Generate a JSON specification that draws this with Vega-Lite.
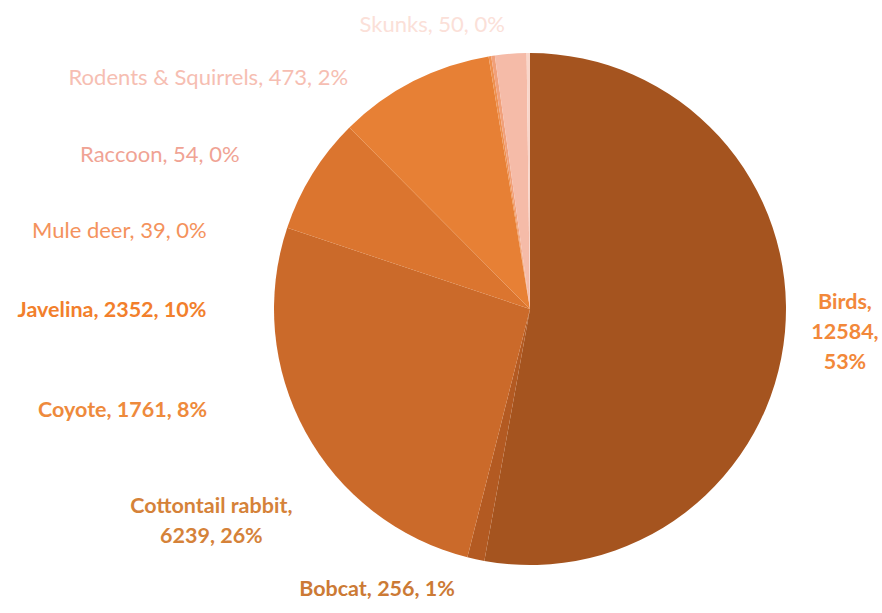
{
  "$schema": "https://vega.github.io/schema/vega-lite/v6.json",
  "width": 704,
  "height": 614,
  "padding": {"left": 178, "top": 2, "right": 0, "bottom": 0},
  "autosize": {"type": "none"},
  "background": "white",
  "view": {"stroke": null},
  "data": {
    "values": [
      {"animal": "Birds", "count": 12584, "order": 1, "label": "Birds,\n12584,\n53%"},
      {"animal": "Bobcat", "count": 256, "order": 2, "label": "Bobcat,  256, 1%"},
      {"animal": "Cottontail rabbit", "count": 6239, "order": 3, "label": "Cottontail rabbit,\n6239, 26%"},
      {"animal": "Coyote", "count": 1761, "order": 4, "label": "Coyote, 1761, 8%"},
      {"animal": "Javelina", "count": 2352, "order": 5, "label": "Javelina,  2352, 10%"},
      {"animal": "Mule deer", "count": 39, "order": 6, "label": "Mule deer, 39, 0%"},
      {"animal": "Raccoon", "count": 54, "order": 7, "label": "Raccoon,  54, 0%"},
      {"animal": "Rodents & Squirrels", "count": 473, "order": 8, "label": "Rodents & Squirrels, 473, 2%"},
      {"animal": "Skunks", "count": 50, "order": 9, "label": "Skunks, 50, 0%"}
    ]
  },
  "resolve": {"scale": {"color": "independent"}},
  "layer": [
    {
      "mark": {"type": "arc", "outerRadius": 256, "stroke": null},
      "encoding": {
        "theta": {"field": "count", "type": "quantitative", "stack": true},
        "order": {"field": "order", "type": "quantitative"},
        "color": {
          "field": "animal", "type": "nominal", "legend": null,
          "scale": {
            "domain": ["Birds", "Bobcat", "Cottontail rabbit", "Coyote", "Javelina", "Mule deer", "Raccoon", "Rodents & Squirrels", "Skunks"],
            "range": ["#a5541f", "#b35a22", "#cb6a2a", "#db752f", "#e78035", "#ee9050", "#f1a07a", "#f5bba8", "#f9d6ca"]
          }
        }
      }
    },
    {
      "transform": [{"filter": {"field": "animal", "oneOf": ["Birds", "Bobcat", "Cottontail rabbit", "Coyote", "Javelina"]}}],
      "mark": {"type": "text", "font": "Lato", "fontSize": 21.5, "fontWeight": "bold", "lineBreak": "\n", "lineHeight": 30, "align": "center", "baseline": "middle"},
      "encoding": {
        "theta": {"value": {"expr": "[1.552, 3.640, 4.157, 4.467, 4.708, 4.900, 5.107, 5.335, 5.951][datum.order - 1]"}},
        "radius": {"value": {"expr": "[315, 320, 375, 420, 418, 418, 401, 396, 300][datum.order - 1]"}},
        "text": {"field": "label"},
        "color": {
          "field": "animal", "type": "nominal", "legend": null,
          "scale": {
            "domain": ["Birds", "Bobcat", "Cottontail rabbit", "Coyote", "Javelina", "Mule deer", "Raccoon", "Rodents & Squirrels", "Skunks"],
            "range": ["#f2883a", "#cc7a35", "#d58239", "#ee8a3c", "#f27f2c", "#f4925c", "#f0a394", "#f6beb2", "#fbe0d8"]
          }
        }
      }
    },
    {
      "transform": [{"filter": {"field": "animal", "oneOf": ["Mule deer", "Raccoon", "Rodents & Squirrels", "Skunks"]}}],
      "mark": {"type": "text", "font": "Lato", "fontSize": 22, "fontWeight": "normal", "lineBreak": "\n", "lineHeight": 30, "align": "center", "baseline": "middle"},
      "encoding": {
        "theta": {"value": {"expr": "[1.552, 3.640, 4.157, 4.467, 4.708, 4.900, 5.107, 5.335, 5.951][datum.order - 1]"}},
        "radius": {"value": {"expr": "[315, 320, 375, 420, 418, 418, 401, 396, 300][datum.order - 1]"}},
        "text": {"field": "label"},
        "color": {
          "field": "animal", "type": "nominal", "legend": null,
          "scale": {
            "domain": ["Birds", "Bobcat", "Cottontail rabbit", "Coyote", "Javelina", "Mule deer", "Raccoon", "Rodents & Squirrels", "Skunks"],
            "range": ["#f2883a", "#cc7a35", "#d58239", "#ee8a3c", "#f27f2c", "#f4925c", "#f0a394", "#f6beb2", "#fbe0d8"]
          }
        }
      }
    }
  ]
}
